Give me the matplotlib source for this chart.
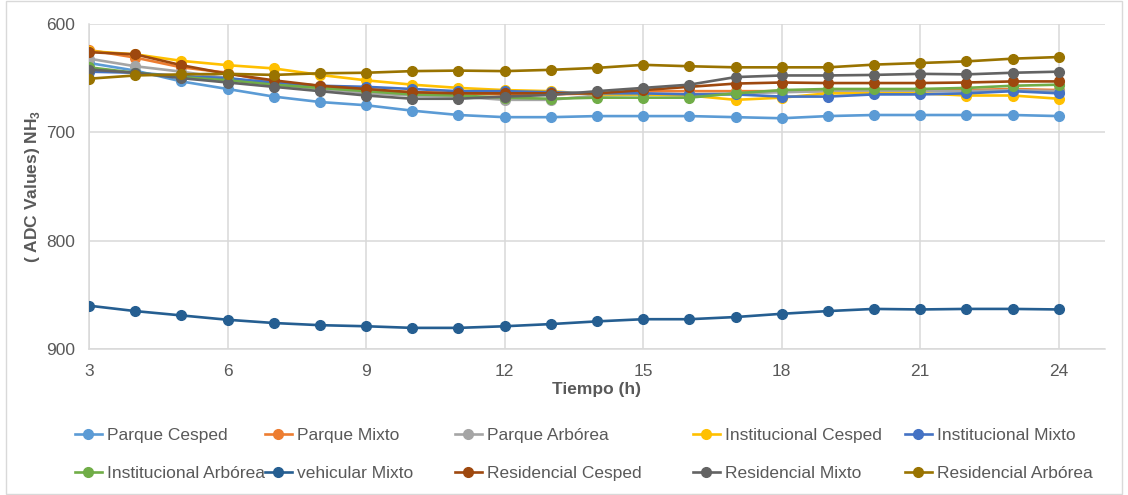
import matplotlib
matplotlib.use("Agg")
import matplotlib.pyplot as plt
from matplotlib.lines import Line2D
from matplotlib.patches import Rectangle

plt.rcParams['font.family'] = ['Liberation Sans', 'DejaVu Sans']

hours = list(range(3, 25))

series_names = [
    "Parque Cesped", "Parque Mixto", "Parque Arbórea", "Institucional Cesped", "Institucional Mixto",
    "Institucional Arbórea", "vehicular Mixto", "Residencial Cesped", "Residencial Mixto", "Residencial Arbórea",
]
series_colors = [
    "#5B9BD5", "#ED7D31", "#A5A5A5", "#FFC000", "#4472C4",
    "#70AD47", "#255E91", "#9E480E", "#636363", "#997300",
]

parque_cesped = [636, 643, 653, 660, 667, 672, 675, 680, 684, 686, 686, 685, 685, 685, 686, 687, 685, 684, 684, 684, 684, 685]
parque_mixto = [624, 631, 640, 645, 654, 657, 661, 663, 664, 665, 665, 664, 662, 662, 662, 662, 662, 661, 661, 661, 660, 661]
parque_arborea = [632, 639, 644, 650, 656, 660, 664, 666, 667, 670, 670, 666, 665, 665, 664, 663, 662, 662, 662, 662, 661, 662]
institucional_cesped = [625, 628, 634, 638, 641, 647, 652, 656, 659, 661, 662, 665, 665, 666, 670, 668, 664, 664, 664, 666, 666, 669]
institucional_mixto = [644, 645, 648, 650, 654, 657, 658, 660, 662, 662, 663, 664, 664, 665, 665, 667, 667, 665, 665, 664, 662, 664]
institucional_arborea = [640, 645, 649, 652, 656, 659, 662, 665, 666, 668, 669, 668, 668, 668, 664, 661, 660, 660, 660, 659, 657, 656]
vehicular_mixto = [860, 865, 869, 873, 876, 878, 879, 880.5, 880.5, 879, 877, 874.5, 872.5, 872.5, 870.5, 867.5, 865, 863, 863.5, 863, 863, 863.5]
residencial_cesped = [626, 628, 638, 646, 652, 657, 660, 663, 664, 664, 664, 664, 661, 658, 655, 654, 654.5, 654.5, 654.5, 654, 653, 653]
residencial_mixto = [642, 645, 650, 654, 658, 662, 666, 669, 669, 667, 665.5, 662, 659, 656, 649, 647.5, 647.5, 647, 646, 646.5, 645, 644]
residencial_arborea = [650.5, 647.5, 646.5, 646, 647, 645.5, 645, 643.5, 643, 643.5, 642.3, 640.5, 637.7, 639, 640, 640, 640, 637.5, 636, 634.5, 632, 630.5]

all_series = [parque_cesped, parque_mixto, parque_arborea, institucional_cesped, institucional_mixto,
              institucional_arborea, vehicular_mixto, residencial_cesped, residencial_mixto, residencial_arborea]

x_ticks = [3, 6, 9, 12, 15, 18, 21, 24]
y_ticks = [600, 700, 800, 900]

fig = plt.figure(figsize=(11.28, 4.95), dpi=100)
ax = fig.add_axes([89 / 1128, 1 - 349 / 495, (1105 - 89) / 1128, (349 - 24) / 495])

grid_c = "#D9D9D9"
for i, (name, color, vals) in enumerate(zip(series_names, series_colors, all_series)):
    ax.plot(hours, vals, color=color, lw=1.9, marker='o', markersize=7, label=name, zorder=3 + i * 0.01)

ax.set_xlim(3, 25)
ax.set_ylim(900, 600)
ax.set_xticks(x_ticks)
ax.set_yticks(y_ticks)
ax.grid(True, color=grid_c, lw=1.1, zorder=0)
for s in ['top', 'right']:
    ax.spines[s].set_visible(False)
for s in ['left', 'bottom']:
    ax.spines[s].set_color(grid_c)
    ax.spines[s].set_linewidth(1.1)
ax.tick_params(axis='both', length=0, labelsize=12.5, labelcolor='#595959')
ax.tick_params(axis='x', pad=11)
ax.tick_params(axis='y', pad=10)
ax.set_xlabel("Tiempo (h)", fontsize=12.5, fontweight='bold', color='#595959', labelpad=2)
ax.set_ylabel("( ADC Values) NH$_\\mathregular{3}$", fontsize=12.5, fontweight='bold', color='#595959', labelpad=3)

# legend in 5 columns placed individually
col_x = [75, 265, 455, 693, 905]
for c in range(5):
    handles = []
    labels = []
    for r in range(2):
        k = c + 5 * r
        handles.append(Line2D([], [], color=series_colors[k], lw=1.9, marker='o', markersize=7))
        labels.append(series_names[k])
    fig.legend(handles, labels, loc='upper left', bbox_to_anchor=(col_x[c] / 1128, 1 - 428 / 495),
               frameon=False, fontsize=12.5, handlelength=1.55, handletextpad=0.3,
               labelspacing=1.32, borderpad=0, borderaxespad=0, labelcolor='#595959')

fig.patches.append(Rectangle((6 / 1128, 1 / 495), 1 - 12 / 1128, 1 - 2 / 495, transform=fig.transFigure,
                             fill=False, edgecolor='#D9D9D9', lw=1))

fig.savefig("out.png", dpi=100)
